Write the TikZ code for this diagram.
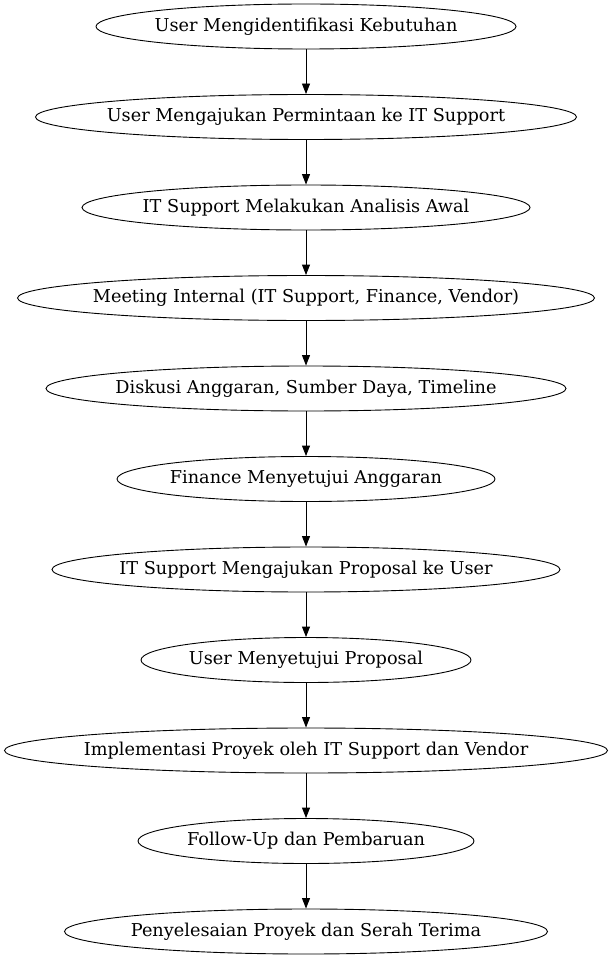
\documentclass[tikz,border=0pt]{standalone}
\usepackage{fontspec}
\setmainfont{DejaVu Serif}
\usetikzlibrary{shapes.geometric,arrows.meta}
\tikzset{
  el/.style={draw, ellipse, line width=0.9pt, inner sep=0pt, minimum height=45pt, font=\fontsize{17.7}{20}\selectfont},
  conn/.style={line width=0.9pt, -{Triangle[length=10.5pt,width=8pt]}},
}
\newcommand{\En}[4]{\node[el, minimum width=#3pt] (#1) at (306,#2) {\makebox[0pt]{#4}};}
\begin{document}
\begin{tikzpicture}[x=1pt,y=-1pt]
\useasboundingbox (0,0) rectangle (613,960);
\En{n1}{26.5}{420}{User Mengidentifikasi Kebutuhan}
\En{n2}{117}{541}{User Mengajukan Permintaan ke IT Support}
\En{n3}{207.5}{448}{IT Support Melakukan Analisis Awal}
\En{n4}{298}{577}{Meeting Internal (IT Support, Finance, Vendor)}
\En{n5}{388.5}{520}{Diskusi Anggaran, Sumber Daya, Timeline}
\En{n6}{479}{378}{Finance Menyetujui Anggaran}
\En{n7}{569.5}{508}{IT Support Mengajukan Proposal ke User}
\En{n8}{660}{330}{User Menyetujui Proposal}
\En{n9}{750.5}{603}{Implementasi Proyek oleh IT Support dan Vendor}
\En{n10}{841}{336}{Follow-Up dan Pembaruan}
\En{n11}{931.5}{483}{Penyelesaian Proyek dan Serah Terima}
\foreach \a/\b in {n1/n2,n2/n3,n3/n4,n4/n5,n5/n6,n6/n7,n7/n8,n8/n9,n9/n10,n10/n11}
  \draw[conn] (\a) -- (\b);
\end{tikzpicture}
\end{document}
